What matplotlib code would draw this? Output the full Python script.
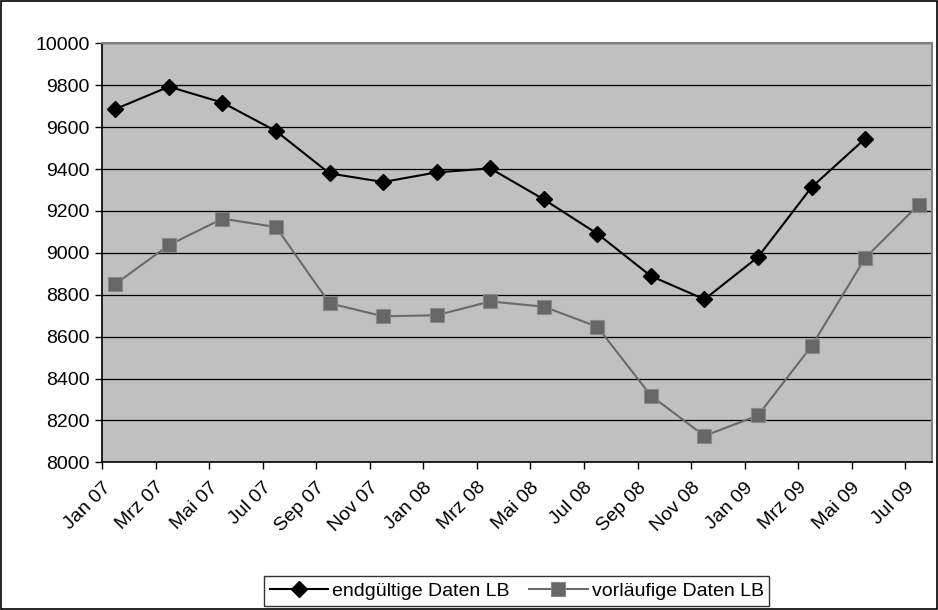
import matplotlib
matplotlib.use("Agg")
import matplotlib.pyplot as plt
from matplotlib.patches import Rectangle
import numpy as np

plt.rcParams['font.family'] = ['Liberation Sans', 'DejaVu Sans']

# tick labels (every second month), points sit mid-month
tick_labels = ['Jan 07', 'Mrz 07', 'Mai 07', 'Jul 07', 'Sep 07', 'Nov 07',
               'Jan 08', 'Mrz 08', 'Mai 08', 'Jul 08', 'Sep 08', 'Nov 08',
               'Jan 09', 'Mrz 09', 'Mai 09', 'Jul 09']

endgueltig = [9686, 9793, 9717, 9581, 9379, 9338, 9384, 9403,
              9255, 9091, 8889, 8778, 8980, 9313, 9545]
vorlaeufig = [8851, 9037, 9163, 9123, 8759, 8697, 8702, 8768,
              8743, 8647, 8318, 8126, 8224, 8555, 8975, 9230]

tick_pos = np.arange(len(tick_labels)) * 2      # month offsets from Jan 07
x_end = tick_pos[:len(endgueltig)] + 0.5
x_vor = tick_pos[:len(vorlaeufig)] + 0.5

fig = plt.figure(figsize=(9.38, 6.1), dpi=100)
ax = fig.add_axes([0.1087, 0.2421, 0.885, 0.6869])
ax.set_facecolor('#C0C0C0')

ax.plot(x_end, endgueltig, color='#000000', lw=1.5, marker='D', ms=8,
        mfc='#000000', mec='#000000', label='endgültige Daten LB', zorder=4)
ax.plot(x_vor, vorlaeufig, color='#6a6a6a', lw=1.5, marker='s', ms=10,
        mfc='#666666', mec='#888888', mew=0.8, label='vorläufige Daten LB', zorder=3)

ax.set_xlim(0, 31)
ax.set_ylim(8000, 10000)
ax.set_yticks(np.arange(8000, 10001, 200))
ax.set_xticks(tick_pos)
ax.set_xticklabels(tick_labels, rotation=45, ha='right', rotation_mode='anchor')
ax.yaxis.grid(True, color='#000000', lw=0.9)
ax.set_axisbelow(True)

ax.tick_params(axis='both', direction='out', length=5, width=1, color='black',
               labelsize=14)
ax.tick_params(axis='x', pad=7)
ax.tick_params(axis='y', pad=4)
for s in ['left', 'bottom']:
    ax.spines[s].set_color('black')
    ax.spines[s].set_linewidth(1.2)
for s in ['top', 'right']:
    ax.spines[s].set_color('#808080')
    ax.spines[s].set_linewidth(1.5)

leg = fig.legend(loc='center', bbox_to_anchor=(0.551, 0.031), ncol=2,
                 frameon=True, fancybox=False, edgecolor='black',
                 fontsize=14, handlelength=3.0, columnspacing=1.0,
                 handletextpad=0.2, borderpad=0.3, borderaxespad=0)
leg.get_frame().set_linewidth(1.0)

fig.patches.append(Rectangle((0.001, 0.001), 0.998, 0.998, transform=fig.transFigure,
                             fill=False, edgecolor='black', lw=1.2))

fig.savefig('out.png', dpi=100)
